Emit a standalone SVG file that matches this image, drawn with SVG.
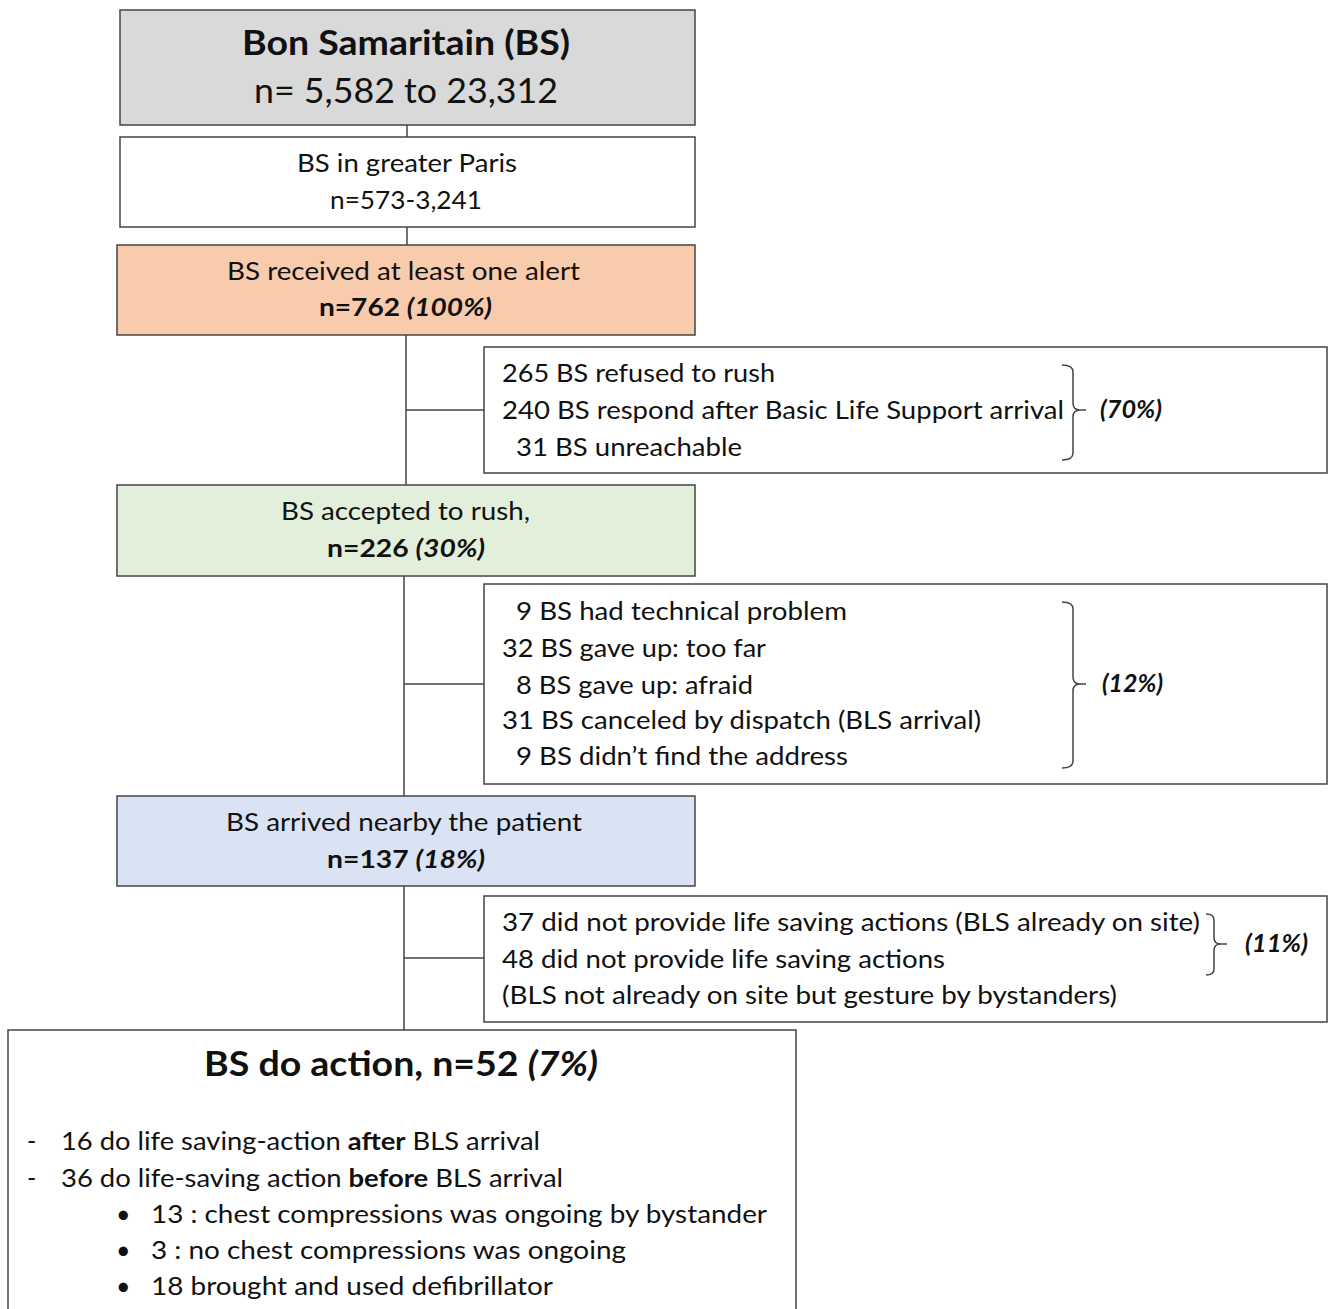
<svg xmlns="http://www.w3.org/2000/svg" width="1328" height="1309" viewBox="0 0 1328 1309">
<style>
text{font-family:Lato,"Liberation Sans",Arial,sans-serif;fill:#111;font-size:25px}
.t{font-size:34px}
.b{font-weight:bold}
.i{font-style:italic}
.box{stroke:#444;stroke-width:1.5}
.ln{stroke:#444;stroke-width:1.5;fill:none}
.c{text-anchor:start}
</style>
<rect width="1328" height="1309" fill="#fff"/>
<g id="connectors">
<line class="ln" x1="407" y1="125" x2="407" y2="137"/>
<line class="ln" x1="407" y1="227" x2="407" y2="245"/>
<line class="ln" x1="406" y1="335" x2="406" y2="485"/>
<line class="ln" x1="406" y1="410" x2="484" y2="410"/>
<line class="ln" x1="404" y1="576" x2="404" y2="796"/>
<line class="ln" x1="404" y1="684" x2="484" y2="684"/>
<line class="ln" x1="404" y1="886" x2="404" y2="1030"/>
<line class="ln" x1="404" y1="958" x2="484" y2="958"/>
</g>
<g id="n1">
<rect class="box" x="120" y="10" width="575" height="115" fill="#d9d9d9"/>
<text class="t b" x="242" y="55" textLength="328" lengthAdjust="spacingAndGlyphs">Bon Samaritain (BS)</text>
<text class="t" x="254" y="103" textLength="304" lengthAdjust="spacingAndGlyphs">n= 5,582 to 23,312</text>
</g>
<g id="n2">
<rect class="box" x="120" y="137" width="575" height="90" fill="#fff"/>
<text x="297" y="172" textLength="220" lengthAdjust="spacingAndGlyphs">BS in greater Paris</text>
<text x="330" y="209" textLength="152" lengthAdjust="spacingAndGlyphs">n=573-3,241</text>
</g>
<g id="n3">
<rect class="box" x="117" y="245" width="578" height="90" fill="#f8cbad"/>
<text x="227" y="280" textLength="353" lengthAdjust="spacingAndGlyphs">BS received at least one alert</text>
<text x="319" y="316" textLength="173" lengthAdjust="spacingAndGlyphs"><tspan class="b">n=762 </tspan><tspan class="b i">(100%)</tspan></text>
</g>
<g id="s1">
<rect class="box" x="484" y="347" width="843" height="126" fill="#fff"/>
<text x="502" y="382" textLength="273" lengthAdjust="spacingAndGlyphs">265 BS refused to rush</text>
<text x="502" y="419" textLength="562" lengthAdjust="spacingAndGlyphs">240 BS respond after Basic Life Support arrival</text>
<text x="516" y="456" textLength="226" lengthAdjust="spacingAndGlyphs">31 BS unreachable</text>
<path class="ln" d="M1062,365 Q1073,365 1073,372 L1073,403 Q1073,410 1080,410 Q1073,410 1073,417 L1073,453 Q1073,460 1062,460"/>
<line class="ln" x1="1080" y1="410" x2="1086" y2="410"/>
<text class="b i" x="1100" y="418" font-size="22" textLength="62" lengthAdjust="spacingAndGlyphs">(70%)</text>
</g>
<g id="n4">
<rect class="box" x="117" y="485" width="578" height="91" fill="#e2efda"/>
<text x="281" y="520" textLength="249" lengthAdjust="spacingAndGlyphs">BS accepted to rush,</text>
<text x="327" y="557" textLength="158" lengthAdjust="spacingAndGlyphs"><tspan class="b">n=226 </tspan><tspan class="b i">(30%)</tspan></text>
</g>
<g id="s2">
<rect class="box" x="484" y="584" width="843" height="200" fill="#fff"/>
<text x="516" y="620" textLength="331" lengthAdjust="spacingAndGlyphs">9 BS had technical problem</text>
<text x="502" y="657" textLength="264" lengthAdjust="spacingAndGlyphs">32 BS gave up: too far</text>
<text x="516" y="694" textLength="237" lengthAdjust="spacingAndGlyphs">8 BS gave up: afraid</text>
<text x="502" y="729" textLength="479" lengthAdjust="spacingAndGlyphs">31 BS canceled by dispatch (BLS arrival)</text>
<text x="516" y="765" textLength="332" lengthAdjust="spacingAndGlyphs">9 BS didn’t find the address</text>
<path class="ln" d="M1062,602 Q1073,602 1073,609 L1073,677 Q1073,684 1080,684 Q1073,684 1073,691 L1073,761 Q1073,768 1062,768"/>
<line class="ln" x1="1080" y1="684" x2="1086" y2="684"/>
<text class="b i" x="1102" y="692" font-size="22" textLength="61" lengthAdjust="spacingAndGlyphs">(12%)</text>
</g>
<g id="n5">
<rect class="box" x="117" y="796" width="578" height="90" fill="#dae3f3"/>
<text x="226" y="831" textLength="356" lengthAdjust="spacingAndGlyphs">BS arrived nearby the patient</text>
<text x="327" y="868" textLength="158" lengthAdjust="spacingAndGlyphs"><tspan class="b">n=137 </tspan><tspan class="b i">(18%)</tspan></text>
</g>
<g id="s3">
<rect class="box" x="484" y="896" width="843" height="126" fill="#fff"/>
<text x="502" y="931" textLength="698" lengthAdjust="spacingAndGlyphs">37 did not provide life saving actions (BLS already on site)</text>
<text x="502" y="968" textLength="443" lengthAdjust="spacingAndGlyphs">48 did not provide life saving actions</text>
<text x="502" y="1004" textLength="615" lengthAdjust="spacingAndGlyphs">(BLS not already on site but gesture by bystanders)</text>
<path class="ln" d="M1206,914 Q1214,914 1214,920 L1214,938 Q1214,944 1221,944 Q1214,944 1214,950 L1214,969 Q1214,975 1206,975"/>
<line class="ln" x1="1221" y1="944" x2="1227" y2="944"/>
<text class="b i" x="1245" y="952" font-size="22" textLength="63" lengthAdjust="spacingAndGlyphs">(11%)</text>
</g>
<g id="n6">
<rect class="box" x="8" y="1030" width="788" height="300" fill="#fff"/>
<text class="t b" x="204" y="1076" textLength="394" lengthAdjust="spacingAndGlyphs">BS do action, n=52 <tspan class="i">(7%)</tspan></text>
<text x="27" y="1150">-</text>
<text x="61" y="1150" textLength="479" lengthAdjust="spacingAndGlyphs">16 do life saving-action <tspan class="b">after</tspan> BLS arrival</text>
<text x="27" y="1187">-</text>
<text x="61" y="1187" textLength="502" lengthAdjust="spacingAndGlyphs">36 do life-saving action <tspan class="b">before</tspan> BLS arrival</text>
<text x="116" y="1223">•</text>
<text x="151" y="1223" textLength="616" lengthAdjust="spacingAndGlyphs">13 : chest compressions was ongoing by bystander</text>
<text x="116" y="1259">•</text>
<text x="151" y="1259" textLength="475" lengthAdjust="spacingAndGlyphs">3 : no chest compressions was ongoing</text>
<text x="116" y="1295">•</text>
<text x="151" y="1295" textLength="402" lengthAdjust="spacingAndGlyphs">18 brought and used defibrillator</text>
</g>
</svg>
